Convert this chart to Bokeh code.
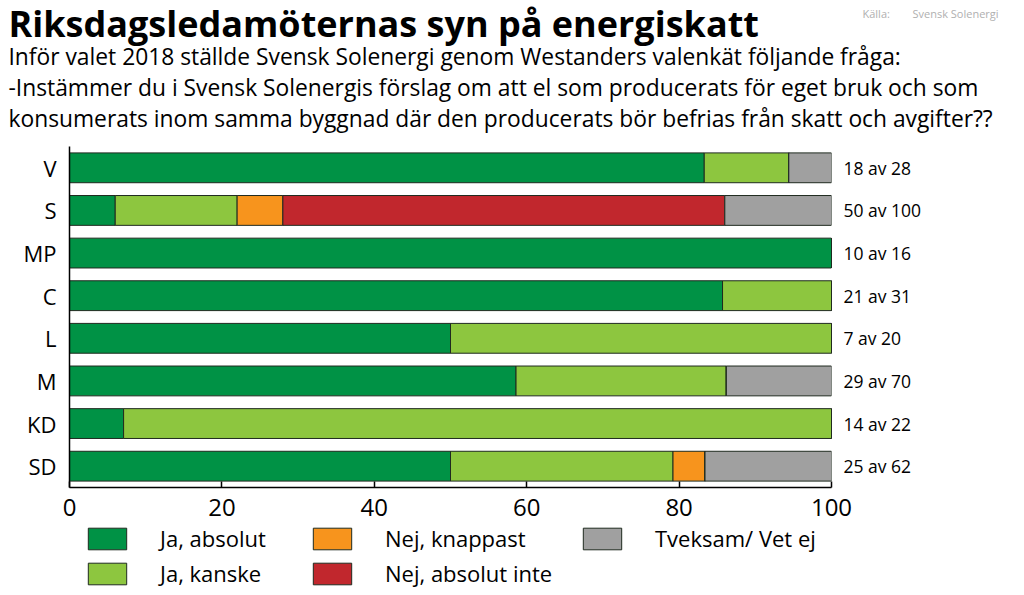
from bokeh.plotting import figure
from bokeh.layouts import column
from bokeh.models import (ColumnDataSource, Legend, LegendItem, FactorRange, Range1d,
                          FixedTicker, CategoricalAxis)
from bokeh.embed import file_html
from bokeh.resources import INLINE
from bokeh.core.properties import value

# ---- data ----
parties = ["V", "S", "MP", "C", "L", "M", "KD", "SD"]
ja_absolut = [83.3, 6.0, 100.0, 85.7, 50.0, 58.6, 7.1, 50.0]
ja_kanske = [11.1, 16.0, 0.0, 14.3, 50.0, 27.6, 92.9, 29.2]
nej_knappast = [0.0, 6.0, 0.0, 0.0, 0.0, 0.0, 0.0, 4.2]
nej_absolut_inte = [0.0, 58.0, 0.0, 0.0, 0.0, 0.0, 0.0, 0.0]
tveksam = [5.6, 14.0, 0.0, 0.0, 0.0, 13.8, 0.0, 16.6]
svar = ["18 av 28", "50 av 100", "10 av 16", "21 av 31", "7 av 20",
        "29 av 70", "14 av 22", "25 av 62"]
series = ["Ja, absolut", "Ja, kanske", "Nej, knappast", "Nej, absolut inte",
          "Tveksam/ Vet ej"]
x_ticks = [0, 20, 40, 60, 80, 100]

title = "Riksdagsledamöternas syn på energiskatt"
subtitle = [
    "Inför valet 2018 ställde Svensk Solenergi genom Westanders valenkät följande fråga:",
    "-Instämmer du i Svensk Solenergis förslag om att el som producerats för eget bruk och som",
    "konsumerats inom samma byggnad där den producerats bör befrias från skatt och avgifter??",
]
source_label = "Källa:"
source_name = "Svensk Solenergi"

colors = ["#009245", "#8dc63f", "#f7941d", "#c1272d", "#a0a0a0"]
OUTLINE = "#1f2a1f"
FONT = "Open Sans"
W = 1020
HEAD_H = 140
AXIS_PANEL = 44
MAIN_H = 6 + 341 + AXIS_PANEL
LEG_H = 66

# ---- header ----
head = figure(width=W, height=HEAD_H, output_backend="svg", toolbar_location=None,
              x_range=Range1d(0, W), y_range=Range1d(HEAD_H, 0),
              x_axis_type=None, y_axis_type=None, min_border=0, frame_align=False)
head.outline_line_color = None
head.text(x=[8], y=[23], text=[title], text_font=value(FONT), text_font_style="bold",
          text_font_size="36px", text_baseline="alphabetic", text_color="black")
head.text(x=[8, 8, 8], y=[56, 87, 118], text=subtitle, text_font=value(FONT),
          text_font_size="22.8px", text_baseline="alphabetic", text_color="black")
head.text(x=[862, 912], y=[13, 13], text=[source_label, source_name],
          text_font=value(FONT), text_font_size="11px", text_baseline="alphabetic",
          text_color="#b0b0b0")

# ---- main chart ----
keys = ["ja_absolut", "ja_kanske", "nej_knappast", "nej_absolut_inte", "tveksam"]
src = ColumnDataSource(dict(party=parties, ja_absolut=ja_absolut, ja_kanske=ja_kanske,
                            nej_knappast=nej_knappast, nej_absolut_inte=nej_absolut_inte,
                            tveksam=tveksam))

p = figure(width=W, height=MAIN_H, output_backend="svg", toolbar_location=None,
           y_range=FactorRange(factors=parties[::-1]), x_range=Range1d(0, 100),
           min_border_left=69, min_border_right=W - 831, min_border_top=6,
           min_border_bottom=AXIS_PANEL, frame_align=False)
p.extra_y_ranges = {"svar": FactorRange(factors=svar[::-1])}
p.outline_line_color = None
p.xgrid.visible = False
p.ygrid.visible = False

renderers = p.hbar_stack(keys, y="party", height=0.7, color=colors, source=src,
                         line_color=OUTLINE, line_width=1)

p.xaxis.ticker = FixedTicker(ticks=x_ticks)
p.xaxis.major_tick_in = 6
p.xaxis.major_tick_out = 0
p.xaxis.minor_tick_line_color = None
p.xaxis.axis_line_width = 1.5
p.xaxis.major_tick_line_width = 1.5
p.xaxis.major_label_text_font_size = "24px"
p.xaxis.major_label_text_font = FONT
p.xaxis.major_label_text_color = "black"
p.xaxis.major_label_standoff = 11

p.yaxis.major_tick_in = 0
p.yaxis.major_tick_out = 0
p.yaxis.axis_line_width = 1.5
p.yaxis.major_label_text_font_size = "22px"
p.yaxis.major_label_text_font = FONT
p.yaxis.major_label_text_color = "black"
p.yaxis.major_label_standoff = 13

right_axis = CategoricalAxis(y_range_name="svar",
                             axis_line_color=None, major_tick_line_color=None,
                             minor_tick_line_color=None, major_label_standoff=6,
                             major_label_text_font=FONT, major_label_text_font_size="17.5px",
                             major_label_text_color="black")
p.add_layout(right_axis, "right")

# ---- legend strip ----
leg = figure(width=W, height=LEG_H, output_backend="svg", toolbar_location=None,
             x_range=Range1d(0, 1), y_range=Range1d(0, 1),
             x_axis_type=None, y_axis_type=None, min_border=0, frame_align=False,
             margin=(-8, 0, 0, 0))
leg.outline_line_color = None
leg.border_fill_alpha = 0
leg.background_fill_alpha = 0
dummies = [leg.hbar(y=[-10], right=[-10], height=0.7, color=c, line_color=OUTLINE,
                    line_width=1) for c in colors]

ITEM_H = 30
SPACING = 5
col_groups = [[0, 1], [2, 3], [4]]
col_x = [83, 308, 578]
for grp, cx in zip(col_groups, col_x):
    items = [LegendItem(label=series[i], renderers=[dummies[i]]) for i in grp]
    n = len(grp)
    lg = Legend(items=items, location=(cx, LEG_H - (ITEM_H * n + SPACING * (n - 1))),
                orientation="vertical",
                glyph_width=48, glyph_height=27, label_standoff=29, spacing=SPACING,
                padding=0, margin=0, border_line_color=None, background_fill_alpha=0,
                label_text_font=FONT, label_text_font_size="22px",
                label_text_color="black", label_height=27)
    leg.add_layout(lg, "center")

layout = column(head, p, leg, spacing=0)
open("out.html", "w").write(file_html(layout, INLINE))
